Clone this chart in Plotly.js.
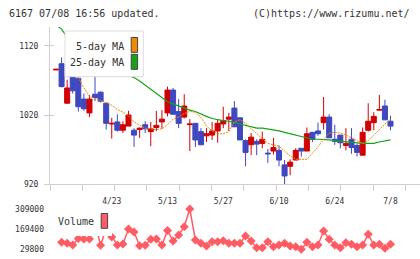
<!DOCTYPE html>
<html>
<head>
<meta charset="utf-8">
<script src="https://cdn.plot.ly/plotly-3.0.1.min.js"></script>
<style>
  html, body { margin: 0; padding: 0; background: #fff; }
  #chart { width: 420px; height: 259px; }
</style>
</head>
<body>
<div id="chart"></div>
<script>
// Daily prices for 6167, 2020/04/09 - 2020/07/08
const dates = [
  '4/9','4/10','4/13','4/14','4/15','4/16','4/17','4/20','4/21','4/22',
  '4/23','4/24','4/27','4/28','4/30','5/1','5/7','5/8','5/11','5/12',
  '5/13','5/14','5/15','5/18','5/19','5/20','5/21','5/22','5/25','5/26',
  '5/27','5/28','5/29','6/1','6/2','6/3','6/4','6/5','6/8','6/9',
  '6/10','6/11','6/12','6/15','6/16','6/17','6/18','6/19','6/22','6/23',
  '6/24','6/25','6/26','6/29','6/30','7/1','7/2','7/3','7/6','7/7',
  '7/8'
];
const open = [
  1085,1094,1037,1080,1073,1043,1023,1050,1053,1037,
  1007,1010, 998,1004, 998, 999,1006, 996,1002,1010,
  1023,1056,1025,1017,1006,1008, 996, 990, 991, 997,
  1007,1014,1030,1016, 983, 977, 982, 979, 965, 968,
   969, 948, 946, 955, 972, 968, 995, 997,1009,1017,
   985, 991, 976, 985, 976, 962, 998,1009,1027,1033,
  1011
];
const high = [
  1086,1103,1071,1080,1077,1051,1049,1077,1054,1037,
  1016,1021,1011,1026,1001,1002,1011,1010,1026,1027,
  1061,1059,1043,1050,1014,1008,1001,1001,1010,1014,
  1032,1023,1040,1016, 985, 994, 985, 996, 971, 987,
   976, 955, 956, 972, 972,1002, 995,1009,1046,1021,
  1006, 991,1001,1001, 979,1002,1037,1024,1049,1042,
  1019
];
const low = [
  1085,1060,1037,1051,1025,1026,1017,1040,1038, 999,
   986, 996, 994,1004, 974, 987, 994, 975, 997,1000,
  1018,1021,1001,1015, 968, 974, 977, 981, 984, 980,
  1001, 997,1003, 984, 946, 962, 962, 972, 951, 963,
   946, 919, 933, 955, 960, 968, 981, 990, 999, 987,
   977, 972, 969, 964, 960, 962, 996, 998,1027,1013,
   998
];
const close = [
  1086,1061,1059,1055,1032,1029,1043,1045,1040,1008,
  1008, 998,1006,1020, 991,1001,1000,1000,1005,1014,
  1056,1021,1008,1033,1007, 984, 977, 993, 997,1008,
  1012,1017,1003, 984, 966, 988, 978, 985, 964, 973,
   955, 932, 952, 969, 968, 993, 985, 993,1017, 987,
   982, 980, 979, 973, 966, 995,1011,1018,1028,1013,
  1004
];
const ma5 = [
  null,null,null,1090,1074,1059,1047,1044,1042,1038,
  1034,1028,1024,1019,1010,1006,1001,1000, 999,1000,
  1006,1014,1017,1022,1025,1024,1017,1004, 997, 993,
   993, 996,1010,1013,1008,1000, 993, 985, 979, 977,
   975, 968, 961, 956, 956, 956, 965, 974, 985, 994,
   995, 994, 991, 987, 982, 979, 983, 991,1000,1007,
  1014
];
const ma25 = [
  1150,1144,1132,1125,1119,1114,1109,1104,1099,1094,
  1089,1085,1080,1077,1074,1069,1063,1056,1050,1045,
  1039,1036,1033,1029,1027,1025,1021,1018,1015,1013,
  1012,1011,1009,1007,1005,1003,1001,1001,1000, 999,
   997, 995, 993, 991, 990, 987, 985, 985, 985, 984,
   983, 982, 982, 981, 980, 979, 979, 979, 981, 982,
   984
];
const volume = [
    null, 78300, 71400, 59600,104600,101200,101200,212000, 57500,177400,
  115000, 59600, 66500,170400,149700, 54700, 57500, 99800,101200, 59600,
  160000, 87300,128900,186400,309000, 94200, 71400, 52700, 82500, 82500,
   89400, 71400, 71400, 71400,122000, 87300, 40900, 40900, 82500, 47800,
   59600, 71400, 52700, 47800, 29800, 78300, 47800, 59600,156600, 99100,
   59600, 40900, 75500, 64400, 47800, 59600,133700, 59600, 64400, 36700,
   64400
];
const priceTicks = [920, 1020, 1120];
const volumeTicks = [29800, 169400, 309000];
const dateTicks = ['4/23', '5/13', '5/27', '6/10', '6/24', '7/8'];

// Page geometry helpers (pixels -> paper fractions)
const W = 420, H = 259;
const px = x => x / W;
const py = y => 1 - y / H;

const UP = '#d30000', DOWN = '#3f48bf';
const ORANGE = '#f08a00', GREEN = '#17a317', VOL = '#ff5c64';
const AXIS = '#d0d0d0', TEXT = '#333333';
const MONO = 'DejaVu Sans Mono, monospace';

const xDomain = [px(50), px(420)];
const xRange = [-1.076, 65.29];
const priceRange = [920, 1147];
const volRange = [4166, 336710];

const traces = [
  {
    type: 'candlestick', x: dates, open: open, high: high, low: low, close: close,
    xaxis: 'x', yaxis: 'y', whiskerwidth: 0, showlegend: false, hoverinfo: 'skip',
    increasing: { line: { color: UP, width: 1 }, fillcolor: UP },
    decreasing: { line: { color: DOWN, width: 1 }, fillcolor: DOWN }
  },
  {
    type: 'scatter', mode: 'lines', x: dates, y: ma25, xaxis: 'x', yaxis: 'y',
    line: { color: GREEN, width: 1.2 }, showlegend: false, hoverinfo: 'skip'
  },
  {
    type: 'scatter', mode: 'lines', x: dates, y: ma5, xaxis: 'x', yaxis: 'y',
    line: { color: ORANGE, width: 1, dash: '2px,1px' }, showlegend: false, hoverinfo: 'skip'
  },
  {
    type: 'scatter', mode: 'lines+markers', x: dates, y: volume, xaxis: 'x2', yaxis: 'y2',
    line: { color: VOL, width: 1.5 }, marker: { symbol: 'diamond', size: 7, color: VOL },
    connectgaps: false, cliponaxis: false, showlegend: false, hoverinfo: 'skip'
  },
  // carries the weekly tick marks along the bottom and left edges
  { type: 'scatter', x: [], y: [], xaxis: 'x3', yaxis: 'y3', showlegend: false, hoverinfo: 'skip' }
];

const layout = {
  width: W, height: H,
  margin: { l: 0, r: 0, t: 0, b: 0 },
  paper_bgcolor: '#fff', plot_bgcolor: '#fff',
  showlegend: false,
  boxgap: 0.1, boxgroupgap: 0,
  font: { family: MONO, size: 8, color: TEXT },
  xaxis: {
    type: 'category', domain: xDomain, range: xRange, anchor: 'y',
    showline: true, linecolor: AXIS, linewidth: 1, showgrid: false, zeroline: false,
    tickmode: 'array', tickvals: dateTicks, ticktext: dateTicks,
    ticks: 'outside', ticklen: 9, tickcolor: 'rgba(0,0,0,0)',
    tickfont: { family: MONO, size: 8, color: TEXT },
    rangeslider: { visible: false }, fixedrange: true
  },
  yaxis: {
    domain: [py(184.3), py(27)], range: priceRange, anchor: 'x',
    showline: true, linecolor: AXIS, linewidth: 1, showgrid: false, zeroline: false,
    tickmode: 'array', tickvals: priceTicks, ticktext: priceTicks.map(String),
    ticks: 'outside', ticklen: 5, tickcolor: AXIS, ticklabelstandoff: 4,
    tickfont: { family: MONO, size: 8, color: TEXT }, fixedrange: true
  },
  xaxis3: {
    overlaying: 'x', anchor: 'y3', range: [0, 370 / 32.3], dtick: 1, tick0: 0,
    ticks: 'outside', ticklen: 6, tickcolor: AXIS, showticklabels: false,
    showline: false, showgrid: false, zeroline: false, fixedrange: true
  },
  yaxis3: {
    overlaying: 'y', anchor: 'x3', side: 'left', range: priceRange,
    tickmode: 'array', tickvals: priceTicks,
    ticks: 'inside', ticklen: 4, tickcolor: AXIS, showticklabels: false,
    showline: false, showgrid: false, zeroline: false, fixedrange: true
  },
  xaxis2: {
    type: 'category', domain: xDomain, range: xRange, anchor: 'y2',
    showline: false, showgrid: false, zeroline: false, ticks: '', showticklabels: false,
    fixedrange: true
  },
  yaxis2: {
    domain: [py(253), py(205)], range: volRange, anchor: 'x2',
    showline: false, showgrid: false, zeroline: false, ticks: '', ticklabelstandoff: 5,
    tickmode: 'array', tickvals: volumeTicks, ticktext: volumeTicks.map(String),
    tickfont: { family: MONO, size: 8, color: TEXT }, fixedrange: true
  },
  shapes: [
    // price legend panel
    { type: 'rect', xref: 'paper', yref: 'paper', layer: 'above',
      x0: px(65), x1: px(143.3), y0: py(76.7), y1: py(31),
      fillcolor: '#fff', line: { color: '#dddddd', width: 1 } },
    { type: 'rect', xref: 'paper', yref: 'paper', layer: 'above',
      x0: px(131.2), x1: px(137.6), y0: py(52.3), y1: py(37.5),
      fillcolor: ORANGE, line: { color: '#444', width: 1 } },
    { type: 'rect', xref: 'paper', yref: 'paper', layer: 'above',
      x0: px(131.2), x1: px(137.6), y0: py(69.3), y1: py(54.3),
      fillcolor: GREEN, line: { color: '#444', width: 1 } },
    // volume legend panel
    { type: 'rect', xref: 'paper', yref: 'paper', layer: 'above',
      x0: px(55), x1: px(112), y0: py(236), y1: py(207),
      fillcolor: '#fff', line: { width: 0 } },
    { type: 'rect', xref: 'paper', yref: 'paper', layer: 'above',
      x0: px(101.2), x1: px(107.6), y0: py(228.3), y1: py(213.5),
      fillcolor: VOL, line: { color: '#444', width: 1 } }
  ],
  annotations: [
    { xref: 'paper', yref: 'paper', x: px(7), y: py(13), xanchor: 'left', yanchor: 'middle',
      text: '6167 07/08 16:56 updated.', showarrow: false,
      font: { family: MONO, size: 10, color: TEXT } },
    { xref: 'paper', yref: 'paper', x: px(412), y: py(13), xanchor: 'right', yanchor: 'middle',
      text: '(C)https://www.rizumu.net/', showarrow: false,
      font: { family: MONO, size: 10, color: TEXT } },
    { xref: 'paper', yref: 'paper', x: px(126), y: py(47), xanchor: 'right', yanchor: 'middle',
      text: '5-day MA', showarrow: false, font: { family: MONO, size: 10, color: TEXT } },
    { xref: 'paper', yref: 'paper', x: px(126), y: py(63), xanchor: 'right', yanchor: 'middle',
      text: '25-day MA', showarrow: false, font: { family: MONO, size: 10, color: TEXT } },
    { xref: 'paper', yref: 'paper', x: px(96), y: py(221.5), xanchor: 'right', yanchor: 'middle',
      text: 'Volume', showarrow: false, font: { family: MONO, size: 10, color: TEXT } }
  ]
};

Plotly.newPlot('chart', traces, layout, { staticPlot: true, displayModeBar: false });
</script>
</body>
</html>
